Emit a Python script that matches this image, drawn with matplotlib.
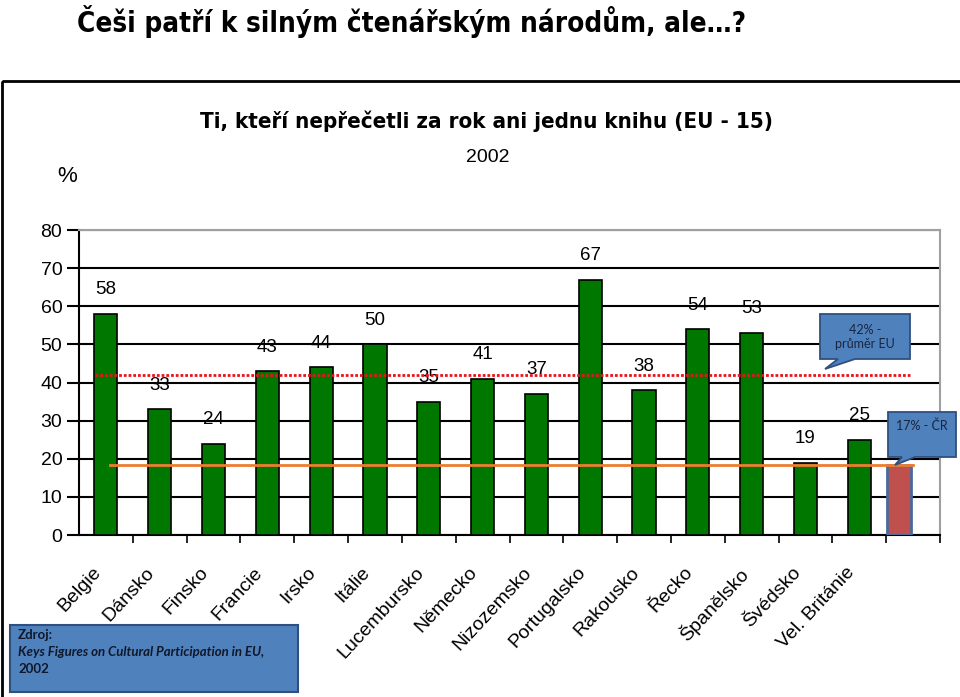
import matplotlib
matplotlib.use("Agg")
import matplotlib.pyplot as plt
import matplotlib.transforms as mtransforms
from matplotlib.patches import Polygon, Rectangle

# data
zeme = ["Belgie", "Dánsko", "Finsko", "Francie", "Irsko", "Itálie", "Lucembursko",
        "Německo", "Nizozemsko", "Portugalsko", "Rakousko", "Řecko", "Španělsko",
        "Švédsko", "Vel. Británie"]
hodnoty = [58, 33, 24, 43, 44, 50, 35, 41, 37, 67, 38, 54, 53, 19, 25]
cr_hodnota = 18.4   # vyska cerveneho sloupce CR podle obrazku
eu_prumer = 42

arial = ["Liberation Sans", "DejaVu Sans"]
calibri = ["Lato", "DejaVu Sans"]

fig = plt.figure(figsize=(9.6, 6.97), dpi=100)

# graf
ax = fig.add_axes([79 / 960, (697 - 535) / 697, (940 - 79) / 960, (535 - 230) / 697])
x = list(range(len(zeme)))
ax.bar(x, hodnoty, width=0.43, color="#007800", edgecolor="black", linewidth=1.2, zorder=3)
ax.bar(len(zeme) - 0.26, cr_hodnota, width=0.44, color="#c0504d",
       edgecolor="#4a6a9a", linewidth=2, zorder=3)

for i, v in zip(x, hodnoty):
    ax.text(i, v + 6.3, str(v), ha="center", va="center", fontsize=13.5, family=arial)

ax.plot([-0.2, 14.95], [eu_prumer, eu_prumer], color="#e8141c", lw=2,
        linestyle=(0, (1, 0.7)), zorder=4)
ax.plot([0.08, 15.0], [cr_hodnota, cr_hodnota], color="#ed7d31", lw=2, zorder=4)

ax.set_xlim(-0.5, 15.5)
ax.set_ylim(0, 80)
ax.set_yticks(range(0, 81, 10))
ax.set_yticklabels([str(v) for v in range(0, 81, 10)], family=arial, fontsize=14)
ax.tick_params(axis="y", length=9, width=1.5, pad=3)
ax.set_xticks(x)
ax.set_xticklabels(zeme, rotation=47, ha="right", va="top", rotation_mode="anchor",
                   fontsize=14, family=arial)
ax.tick_params(axis="x", which="major", length=0, pad=18)
posun = mtransforms.ScaledTranslation(-0.14, -0.04, fig.dpi_scale_trans)
for t in ax.get_xticklabels():
    t.set_transform(t.get_transform() + posun)
ax.set_xticks([i + 0.5 for i in range(16)], minor=True)
ax.tick_params(axis="x", which="minor", length=6, width=1.2, direction="out")

ax.set_axisbelow(True)
ax.yaxis.grid(True, color="black", linewidth=1.5)
ax.spines["left"].set_linewidth(1.5)
ax.spines["bottom"].set_linewidth(1.5)
ax.spines["top"].set_color("#a0a0a0")
ax.spines["right"].set_color("#a0a0a0")
ax.spines["top"].set_linewidth(1.5)
ax.spines["right"].set_linewidth(1.5)

# popisky a ramecky pres celou plochu
ov = fig.add_axes([0, 0, 1, 1], zorder=5)
ov.set_xlim(0, 960)
ov.set_ylim(697, 0)
ov.axis("off")
ov.patch.set_alpha(0)

ov.add_patch(Rectangle((2, 81), 962, 620, fill=False, edgecolor="black", lw=2))

ov.text(412, 22, "Češi patří k silným čtenářským národům, ale…?", ha="center", va="center",
        fontsize=20, fontweight="bold", family=["DejaVu Sans"], fontstretch="condensed")
ov.text(487, 121, "Ti, kteří nepřečetli za rok ani jednu knihu (EU - 15)", ha="center",
        va="center", fontsize=16, fontweight="bold", family=["DejaVu Sans"], fontstretch="condensed")
ov.text(488, 157, "2002", ha="center", va="center", fontsize=14, family=arial)
ov.text(67, 177, "%", ha="center", va="center", fontsize=16, family=arial)

modra = "#4f81bd"
okraj = "#2f4f7f"
ov.add_patch(Polygon([(820, 314), (910, 314), (910, 359), (855, 359), (825, 369),
                      (838, 359), (820, 359)], closed=True, facecolor=modra,
                     edgecolor=okraj, lw=1.3))
ov.text(865, 337, "42% -\nprůměr EU", ha="center", va="center", fontsize=9,
        color="#1a2540", family=calibri, linespacing=1.3)

ov.add_patch(Polygon([(888, 412), (956, 412), (956, 457), (915, 457), (895, 465),
                      (902, 457), (888, 457)], closed=True, facecolor=modra,
                     edgecolor=okraj, lw=1.3))
ov.text(922, 426, "17% - ČR", ha="center", va="center", fontsize=9,
        color="#1a2540", family=calibri)

ov.add_patch(Rectangle((10, 625), 288, 67, facecolor=modra, edgecolor=okraj, lw=1.5))
ov.text(18, 635, "Zdroj:", ha="left", va="center", fontsize=9.5, fontweight="bold",
        family=calibri, color="#10182a")
ov.text(18, 652, "Keys Figures on Cultural Participation in EU,", ha="left", va="center",
        fontsize=9.5, fontweight="bold", fontstyle="italic", family=calibri, color="#10182a")
ov.text(18, 669, "2002", ha="left", va="center", fontsize=9.5, fontweight="bold",
        family=calibri, color="#10182a")

fig.savefig("out.png", dpi=100)
